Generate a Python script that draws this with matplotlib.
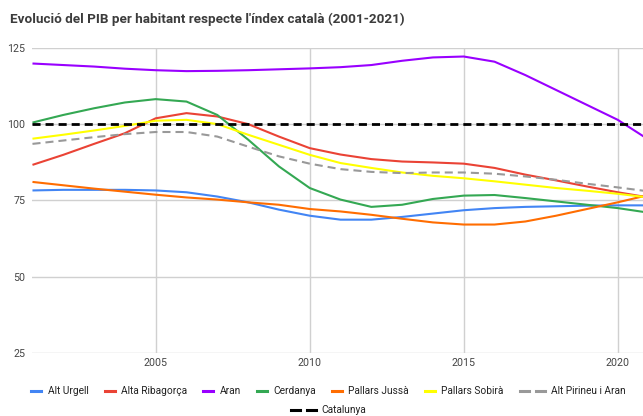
import matplotlib
matplotlib.use("Agg")
import matplotlib.pyplot as plt
from matplotlib.lines import Line2D
from matplotlib.offsetbox import DrawingArea, TextArea, HPacker, VPacker, AnchoredOffsetbox

plt.rcParams['font.family'] = ['Roboto', 'DejaVu Sans']
plt.rcParams['lines.scale_dashes'] = False

years = list(range(2001, 2022))

alt_urgell = [78.3, 78.5, 78.5, 78.5, 78.3, 77.7, 76.3, 74.4, 72.0, 70.0, 68.7,
              68.7, 69.6, 70.7, 71.8, 72.5, 72.9, 73.1, 73.3, 73.4, 73.4]
alta_ribagorca = [86.7, 90.0, 93.6, 97.1, 102.0, 103.7, 102.6, 100.1, 96.0, 92.2, 90.1,
                  88.6, 87.8, 87.5, 87.1, 85.7, 83.5, 81.6, 79.6, 77.7, 76.0]
aran = [120.0, 119.5, 119.0, 118.3, 117.8, 117.5, 117.6, 117.8, 118.1, 118.4, 118.8,
        119.5, 120.9, 122.0, 122.3, 120.6, 116.2, 111.3, 106.4, 101.5, 95.0]
cerdanya = [100.6, 103.1, 105.3, 107.2, 108.3, 107.5, 103.1, 95.0, 86.2, 79.1, 75.3,
            72.9, 73.6, 75.5, 76.6, 76.8, 75.8, 74.7, 73.6, 72.5, 71.0]
pallars_jussa = [81.1, 80.0, 78.9, 77.9, 76.9, 76.0, 75.3, 74.4, 73.6, 72.2, 71.4,
                 70.3, 69.0, 67.8, 67.1, 67.1, 68.1, 70.0, 72.2, 74.4, 76.8]
pallars_sobira = [95.3, 96.6, 98.0, 99.5, 101.2, 101.5, 100.1, 96.6, 93.3, 90.0, 87.3,
                  85.7, 84.2, 83.1, 82.3, 81.3, 80.2, 79.1, 78.2, 77.2, 76.0]
alt_pirineu = [93.6, 94.7, 95.8, 96.8, 97.5, 97.5, 96.0, 92.7, 89.5, 87.1, 85.3,
               84.4, 84.0, 84.2, 84.2, 83.8, 82.9, 81.8, 80.5, 79.3, 78.0]
catalunya = [100] * 21

series = [
    ("Alt Urgell", alt_urgell, "#4285F4", False),
    ("Alta Ribagorça", alta_ribagorca, "#EA4335", False),
    ("Aran", aran, "#9900FF", False),
    ("Cerdanya", cerdanya, "#34A853", False),
    ("Pallars Jussà", pallars_jussa, "#FF6D01", False),
    ("Pallars Sobirà", pallars_sobira, "#FFFF00", False),
    ("Alt Pirineu i Aran", alt_pirineu, "#999999", True),
    ("Catalunya", catalunya, "#000000", True),
]

fig = plt.figure(figsize=(6.43, 4.16), dpi=100)
ax = fig.add_axes([0.0505, 0.1522, 0.9495, 0.7317])

for name, vals, color, dashed in series:
    lw = 2.0 if name == "Catalunya" else 1.5
    line, = ax.plot(years, vals, color=color, lw=lw, label=name,
                    solid_capstyle='butt')
    if dashed:
        line.set_dashes((5.8, 3.6))

ax.set_xlim(2001, 2020.82)
ax.set_ylim(25, 125)
ax.set_yticks([25, 50, 75, 100, 125])
ax.set_xticks([2005, 2010, 2015, 2020])
ax.grid(True, color='#d0d0d0', lw=1.0)
ax.set_axisbelow(True)
for s in ax.spines.values():
    s.set_visible(False)
ax.tick_params(length=0, labelsize=7.7, labelcolor='#444444', pad=4)
ax.tick_params(axis='y', pad=5)

fig.text(0.0156, 0.953, "Evolució del PIB per habitant respecte l'índex català (2001-2021)",
         fontsize=9.7, fontweight='bold', color='#3c3c3c', va='center')

# legend built from offset boxes so solid and dashed keys can have different lengths
def legend_item(name, color, dashed):
    h = 7.0
    if dashed:
        da = DrawingArea(18, h, 0, 0)
        da.add_artist(Line2D([0, 6.5], [h / 2, h / 2], color=color, lw=2.2))
        da.add_artist(Line2D([11.5, 18], [h / 2, h / 2], color=color, lw=2.2))
    else:
        da = DrawingArea(7.2, h, 0, 0)
        da.add_artist(Line2D([0, 7.2], [h / 2, h / 2], color=color, lw=2.2))
    txt = TextArea(name, textprops=dict(fontsize=7.3, color='#222222'))
    return HPacker(children=[da, txt], sep=4.5, align='center', pad=0)

row1 = HPacker(children=[legend_item(n, c, d) for n, v, c, d in series[:7]],
               sep=11.7, align='center', pad=0)
row2 = HPacker(children=[legend_item(n, c, d) for n, v, c, d in series[7:]],
               sep=11.7, align='center', pad=0)
box = VPacker(children=[row1, row2], sep=6, align='center', pad=0)
anchored = AnchoredOffsetbox(loc='lower center', child=box, frameon=False,
                             bbox_to_anchor=(0.511, 0.003), bbox_transform=fig.transFigure,
                             borderpad=0, pad=0)
fig.add_artist(anchored)

fig.savefig("out.png", dpi=100, facecolor='white')
